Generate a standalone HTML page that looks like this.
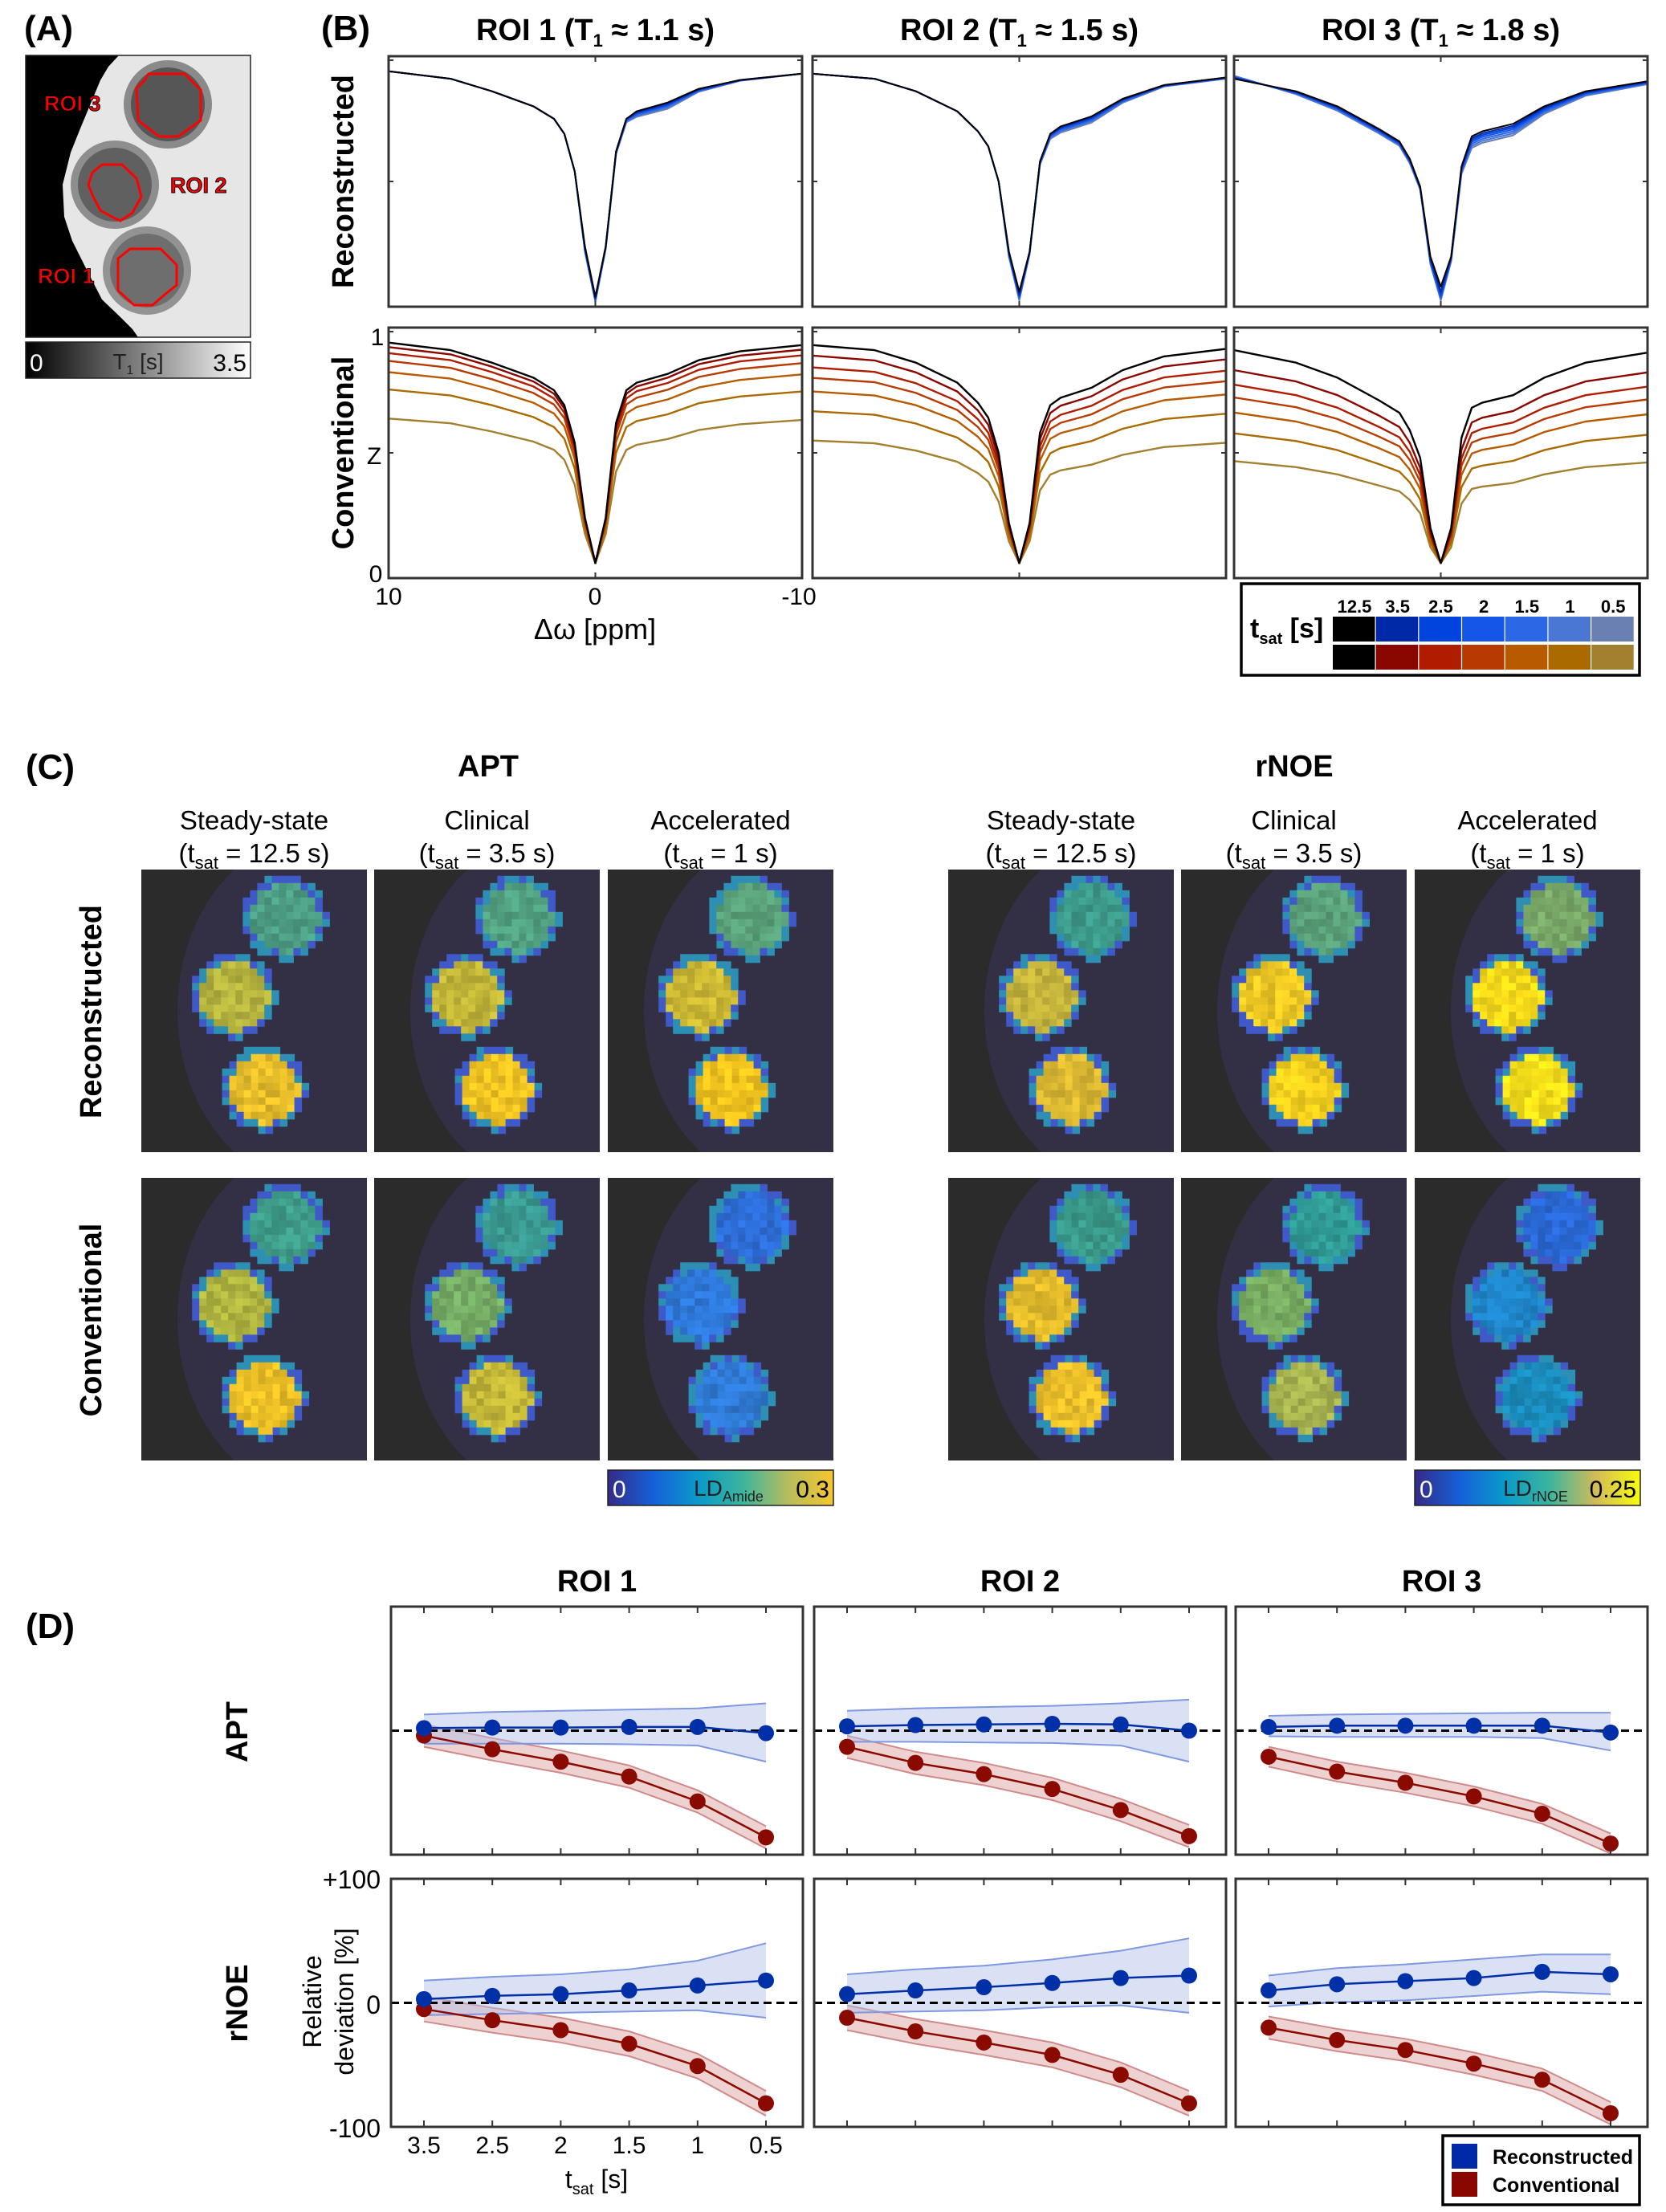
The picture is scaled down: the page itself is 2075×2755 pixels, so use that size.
<!DOCTYPE html>
<html><head><meta charset="utf-8"><style>
html,body{margin:0;padding:0;background:#fff;}
svg text{font-family:"Liberation Sans Narrow","Liberation Sans",sans-serif;}
.w{font-family:"Liberation Sans",sans-serif !important;}
</style></head><body>
<svg id="fig" xmlns="http://www.w3.org/2000/svg" width="2075" height="2750" viewBox="0 0 2075 2750">
<defs>
<linearGradient id="gT1" x1="0" x2="1"><stop offset="0" stop-color="#000"/><stop offset="1" stop-color="#fff"/></linearGradient>
<linearGradient id="gPar1" x1="0" x2="1"><stop offset="0" stop-color="#352a87"/><stop offset="0.2" stop-color="#1560d8"/><stop offset="0.4" stop-color="#0a9acb"/><stop offset="0.6" stop-color="#3db59c"/><stop offset="0.8" stop-color="#b7bd5c"/><stop offset="1" stop-color="#f6c62e"/></linearGradient>
<linearGradient id="gPar2" x1="0" x2="1"><stop offset="0" stop-color="#352a87"/><stop offset="0.2" stop-color="#1560d8"/><stop offset="0.4" stop-color="#0a9acb"/><stop offset="0.6" stop-color="#3db59c"/><stop offset="0.8" stop-color="#d1bb59"/><stop offset="1" stop-color="#f9fb0e"/></linearGradient>
</defs>
<g id="panelA">
<text x="30" y="50" font-size="44" font-weight="bold">(A)</text>
<rect x="32" y="69" width="280" height="351" fill="#e6e6e6"/>
<polygon points="32,69 148,69 135,83 125,100 100,160 88,190 78,230 80,270 90,300 110,340 127,373 150,395 165,410 172,420 32,420" fill="#000"/>
<circle cx="209" cy="130" r="55" fill="#8a8a8a"/><circle cx="209" cy="130" r="46" fill="#565656"/>
<circle cx="143" cy="230" r="55" fill="#8e8e8e"/><circle cx="143" cy="230" r="46" fill="#606060"/>
<circle cx="183" cy="337" r="55" fill="#939393"/><circle cx="183" cy="337" r="46" fill="#6e6e6e"/>
<polygon points="185,92 230,92 250,112 250,150 222,170 198,170 172,150 170,110 180,100" fill="none" stroke="#f00" stroke-width="3"/>
<polygon points="127,205 152,205 170,222 176,245 165,265 150,275 143,272 125,262 116,245 110,230 115,215" fill="none" stroke="#f00" stroke-width="3"/>
<polygon points="162,310 200,310 220,330 220,355 205,367 190,380 167,380 147,362 147,322" fill="none" stroke="#f00" stroke-width="3"/>
<g font-size="27" font-weight="bold" fill="#f00" stroke="#000" stroke-width="1" class="w">
<text x="55" y="138" class="w">ROI 3</text>
<text x="212" y="240" class="w">ROI 2</text>
<text x="47" y="353" class="w">ROI 1</text>
</g>
<rect x="32" y="69" width="280" height="351" fill="none" stroke="#222" stroke-width="1.5"/>
<rect x="32" y="426" width="280" height="45" fill="url(#gT1)" stroke="#222" stroke-width="1.5"/>
<text x="37" y="462" font-size="30" fill="#fff" class="w">0</text>
<text x="172" y="460" font-size="28" fill="#222" text-anchor="middle" class="w">T<tspan font-size="16" dy="6">1</tspan><tspan dy="-6"> [s]</tspan></text>
<text x="307" y="462" font-size="30" fill="#000" text-anchor="end" class="w">3.5</text>
</g>
<g id="panelB"></g>
<g id="panelC"></g>
<g id="panelD"></g>
</svg>
<script>
// ---------- Panel B data ----------
const offsets = [10,7,5,3,2,1.5,1,0.5,0,-0.5,-1,-1.5,-2,-3.5,-5,-7,-10];
const tsatLabels = ['12.5','3.5','2.5','2','1.5','1','0.5'];
const blueColors = ['#000000','#0029a8','#0044dd','#1555e8','#2b68e6','#4a76d4','#6b80b2'];
const redColors  = ['#000000','#8a0700','#b01c00','#b83a00','#b85a00','#ab6a00','#a38030'];
const roiTitles = ['ROI 1 (T','ROI 2 (T','ROI 3 (T'];
const roiT1 = ['1.1','1.5','1.8'];
// reconstructed, ROI1
const rec1_125=[0.94,0.91,0.86,0.80,0.75,0.69,0.54,0.24,0.04,0.24,0.62,0.75,0.78,0.815,0.87,0.905,0.93];
const rec1_35 =[0.94,0.91,0.86,0.80,0.75,0.69,0.54,0.23,0.035,0.24,0.62,0.75,0.777,0.812,0.868,0.905,0.93];
const rec1_25 =[0.94,0.91,0.86,0.80,0.75,0.69,0.54,0.23,0.03,0.24,0.62,0.748,0.774,0.808,0.866,0.904,0.93];
const rec1_2  =[0.94,0.91,0.86,0.80,0.75,0.69,0.54,0.23,0.03,0.235,0.615,0.745,0.77,0.804,0.864,0.904,0.93];
const rec1_15 =[0.94,0.91,0.86,0.80,0.75,0.69,0.54,0.22,0.025,0.235,0.615,0.742,0.766,0.80,0.862,0.903,0.93];
const rec1_1  =[0.94,0.91,0.86,0.80,0.75,0.69,0.54,0.22,0.02,0.23,0.61,0.74,0.762,0.796,0.86,0.903,0.93];
const rec1_05 =[0.94,0.91,0.86,0.80,0.75,0.69,0.54,0.22,0.02,0.23,0.61,0.736,0.758,0.79,0.858,0.902,0.93];
// reconstructed, ROI2
const rec2_125=[0.93,0.91,0.86,0.78,0.70,0.64,0.50,0.22,0.06,0.22,0.58,0.69,0.72,0.76,0.83,0.885,0.915];
const rec2_35 =[0.93,0.91,0.86,0.78,0.70,0.64,0.50,0.22,0.05,0.22,0.58,0.688,0.717,0.757,0.828,0.884,0.915];
const rec2_25 =[0.93,0.91,0.86,0.78,0.70,0.64,0.50,0.21,0.045,0.22,0.578,0.685,0.713,0.753,0.826,0.883,0.914];
const rec2_2  =[0.93,0.91,0.86,0.78,0.70,0.64,0.50,0.21,0.04,0.215,0.575,0.682,0.709,0.749,0.823,0.882,0.913];
const rec2_15 =[0.93,0.91,0.86,0.78,0.70,0.64,0.50,0.21,0.035,0.215,0.572,0.678,0.705,0.745,0.82,0.881,0.912];
const rec2_1  =[0.93,0.91,0.86,0.78,0.70,0.64,0.50,0.20,0.03,0.21,0.57,0.674,0.70,0.74,0.817,0.88,0.911];
const rec2_05 =[0.93,0.91,0.86,0.78,0.70,0.64,0.50,0.20,0.025,0.21,0.567,0.67,0.695,0.735,0.814,0.879,0.91];
// reconstructed, ROI3
const rec3_125=[0.91,0.86,0.80,0.71,0.66,0.59,0.48,0.20,0.08,0.20,0.56,0.68,0.70,0.73,0.80,0.86,0.90];
const rec3_35 =[0.912,0.858,0.797,0.707,0.657,0.587,0.478,0.19,0.06,0.20,0.555,0.672,0.692,0.722,0.795,0.857,0.898];
const rec3_25 =[0.914,0.856,0.794,0.704,0.654,0.584,0.476,0.19,0.05,0.195,0.55,0.665,0.685,0.715,0.79,0.854,0.896];
const rec3_2  =[0.916,0.854,0.791,0.701,0.651,0.581,0.474,0.18,0.04,0.19,0.545,0.658,0.678,0.708,0.785,0.851,0.894];
const rec3_15 =[0.918,0.852,0.788,0.698,0.648,0.578,0.472,0.18,0.035,0.19,0.54,0.65,0.67,0.70,0.78,0.848,0.892];
const rec3_1  =[0.92,0.85,0.785,0.695,0.645,0.575,0.47,0.17,0.03,0.185,0.535,0.642,0.662,0.692,0.775,0.845,0.89];
const rec3_05 =[0.922,0.848,0.782,0.692,0.642,0.572,0.468,0.17,0.025,0.18,0.53,0.634,0.654,0.684,0.77,0.842,0.888];
// conventional, ROI1
const con1_125=[0.94,0.91,0.86,0.80,0.75,0.69,0.54,0.24,0.06,0.24,0.62,0.75,0.78,0.815,0.87,0.905,0.93];
const con1_35 =[0.922,0.893,0.844,0.785,0.736,0.677,0.530,0.236,0.06,0.236,0.609,0.736,0.765,0.80,0.854,0.888,0.912];
const con1_25 =[0.898,0.87,0.822,0.765,0.717,0.66,0.517,0.231,0.06,0.231,0.593,0.717,0.746,0.779,0.831,0.865,0.889];
const con1_2  =[0.867,0.839,0.794,0.739,0.693,0.638,0.50,0.224,0.06,0.224,0.573,0.693,0.72,0.752,0.803,0.835,0.858];
const con1_15 =[0.822,0.796,0.752,0.70,0.657,0.605,0.475,0.215,0.06,0.215,0.544,0.657,0.683,0.713,0.761,0.791,0.813];
const con1_1  =[0.753,0.729,0.69,0.643,0.603,0.556,0.437,0.20,0.06,0.20,0.50,0.603,0.627,0.654,0.698,0.725,0.745];
const con1_05 =[0.637,0.618,0.585,0.545,0.512,0.472,0.373,0.175,0.06,0.175,0.426,0.512,0.532,0.555,0.591,0.614,0.631];
// conventional, ROI2
const con2_125=[0.93,0.91,0.86,0.78,0.70,0.64,0.50,0.22,0.06,0.22,0.58,0.69,0.72,0.76,0.83,0.885,0.915];
const con2_35 =[0.888,0.869,0.821,0.745,0.669,0.612,0.478,0.212,0.06,0.212,0.555,0.659,0.688,0.726,0.793,0.845,0.873];
const con2_25 =[0.841,0.823,0.778,0.706,0.634,0.58,0.455,0.203,0.06,0.203,0.526,0.625,0.652,0.688,0.751,0.801,0.828];
const con2_2  =[0.799,0.782,0.739,0.671,0.603,0.552,0.433,0.195,0.06,0.195,0.501,0.595,0.62,0.654,0.714,0.761,0.786];
const con2_15 =[0.745,0.729,0.69,0.627,0.564,0.516,0.406,0.184,0.06,0.184,0.469,0.556,0.579,0.611,0.666,0.71,0.733];
const con2_1  =[0.666,0.652,0.617,0.561,0.505,0.463,0.365,0.169,0.06,0.169,0.421,0.498,0.519,0.547,0.596,0.635,0.656];
const con2_05 =[0.549,0.538,0.509,0.464,0.419,0.385,0.305,0.146,0.06,0.146,0.35,0.413,0.43,0.453,0.492,0.523,0.54];
// conventional, ROI3
const con3_125=[0.91,0.86,0.80,0.71,0.66,0.59,0.48,0.20,0.06,0.20,0.56,0.68,0.70,0.73,0.80,0.86,0.90];
const con3_35 =[0.83,0.785,0.73,0.649,0.603,0.54,0.44,0.186,0.06,0.186,0.513,0.621,0.64,0.667,0.73,0.785,0.821];
const con3_25 =[0.772,0.73,0.68,0.604,0.562,0.504,0.411,0.176,0.06,0.176,0.478,0.579,0.596,0.621,0.68,0.73,0.764];
const con3_2  =[0.721,0.682,0.635,0.565,0.526,0.471,0.385,0.167,0.06,0.167,0.448,0.541,0.557,0.58,0.635,0.682,0.713];
const con3_15 =[0.661,0.625,0.583,0.519,0.483,0.433,0.355,0.157,0.06,0.157,0.412,0.497,0.512,0.533,0.583,0.625,0.654];
const con3_1  =[0.578,0.547,0.511,0.455,0.425,0.382,0.314,0.142,0.06,0.142,0.363,0.437,0.449,0.468,0.511,0.547,0.572];
const con3_05 =[0.467,0.443,0.414,0.37,0.346,0.312,0.259,0.123,0.06,0.123,0.297,0.356,0.365,0.38,0.414,0.443,0.462];

// ---------- Panel D data ----------
const tsatTickLabels = ['3.5','2.5','2','1.5','1','0.5'];
const aptRec1=[2,2.5,2.5,3,3,-2], aptRec1Hi=[13,15,16,17,18,22], aptRec1Lo=[-10.5,-10.5,-10.5,-11,-12,-25];
const aptCon1=[-4,-15,-25,-37,-57,-86], aptCon1Hi=[5,-6,-16,-28,-48,-77], aptCon1Lo=[-13,-24,-34,-46,-66,-95];
const aptRec2=[3.5,4.5,5,5.5,5,0], aptRec2Hi=[16,18,19,20,22,25], aptRec2Lo=[-9,-9,-9.5,-10,-12,-25];
const aptCon2=[-13,-26,-35,-47,-64,-85], aptCon2Hi=[-4,-17,-26,-38,-55,-76], aptCon2Lo=[-22,-35,-44,-56,-73,-94];
const aptRec3=[3,4,4,4,4,-1.5], aptRec3Hi=[12,13,13.5,14,14.5,14.5], aptRec3Lo=[-4.5,-5,-5,-5,-6,-16];
const aptCon3=[-21,-33,-42,-53,-67,-91], aptCon3Hi=[-13,-25,-34,-45,-59,-83], aptCon3Lo=[-29,-41,-50,-61,-75,-99];
const noeRec1=[3,5.6,7,10,14,18], noeRec1Hi=[18,21,23,27,34,48], noeRec1Lo=[-10,-9,-8,-7,-6,-12];
const noeCon1=[-5,-14,-22,-33,-51,-81], noeCon1Hi=[5,-4,-12,-23,-41,-71], noeCon1Lo=[-15,-24,-32,-43,-61,-91];
const noeRec2=[7,10,12.6,16,20,22], noeRec2Hi=[23,27,30,35,42,52], noeRec2Lo=[-8,-7,-6,-3.5,-2,-8];
const noeCon2=[-12,-23,-32,-42,-58,-81], noeCon2Hi=[-2,-13,-22,-32,-48,-71], noeCon2Lo=[-22,-33,-42,-52,-68,-91];
const noeRec3=[10,15,17.5,20,25,23], noeRec3Hi=[22,28,31,35,39,39], noeRec3Lo=[-3,0.5,2,5.5,9,7];
const noeCon3=[-20,-30,-38,-49,-62,-89], noeCon3Hi=[-11,-21,-29,-40,-53,-80], noeCon3Lo=[-29,-39,-47,-58,-71,-98];

const NS='http://www.w3.org/2000/svg';
function mk(parent,tag,attrs,txt){const e=document.createElementNS(NS,tag);for(const k in attrs)e.setAttribute(k,attrs[k]);if(txt!==undefined)e.textContent=txt;parent.appendChild(e);return e;}

// ---------- Panel B ----------
const gB=document.getElementById('panelB');
const bX=[484,1012,1537], bW=515, bY=[70,408], bH=[312,312];
const recSets=[[rec1_125,rec1_35,rec1_25,rec1_2,rec1_15,rec1_1,rec1_05],[rec2_125,rec2_35,rec2_25,rec2_2,rec2_15,rec2_1,rec2_05],[rec3_125,rec3_35,rec3_25,rec3_2,rec3_15,rec3_1,rec3_05]];
const conSets=[[con1_125,con1_35,con1_25,con1_2,con1_15,con1_1,con1_05],[con2_125,con2_35,con2_25,con2_2,con2_15,con2_1,con2_05],[con3_125,con3_35,con3_25,con3_2,con3_15,con3_1,con3_05]];
let t=mk(gB,'text',{x:400,y:50,'font-size':44,'font-weight':'bold'},'(B)');


for(let c=0;c<3;c++){
  const tt=mk(gB,'text',{x:bX[c]+bW/2,y:50,'font-size':38,'font-weight':'bold','text-anchor':'middle'});
  
  
  mk(tt,'tspan',{},roiTitles[c]);
  mk(tt,'tspan',{'font-size':22,dy:8},'1');
  mk(tt,'tspan',{dy:-8},' \u2248 '+roiT1[c]+' s)');
  for(let r=0;r<2;r++){
    const x0=bX[c],y0=bY[r],h=bH[r];
    const sx=p=>x0+(10-p)/20*bW, sy=z=>y0+h-z*h;
    const g=mk(gB,'g',{});
    
    
    const sets=r?conSets[c]:recSets[c], cols=r?redColors:blueColors;
    for(let k=6;k>=0;k--){
      const d=sets[k].map((z,i)=>(i?'L':'M')+sx(offsets[i]).toFixed(1)+','+sy(z).toFixed(1)).join('');
      const p=mk(g,'path',{d:d,fill:'none',stroke:cols[k],'stroke-width':r?2.4:2,'stroke-linejoin':'round'});
      
      
    }
    const box=mk(gB,'rect',{x:x0,y:y0,width:bW,height:h,fill:'none',stroke:'#333','stroke-width':3});
    
    
    mk(gB,'path',{d:`M${sx(0)},${y0}v7M${sx(0)},${y0+h}v-7M${x0},${y0+h/2}h6M${x0+bW},${y0+h/2}h-6M${x0},${y0+5}h6M${x0+bW},${y0+5}h-6`,stroke:'#333','stroke-width':2});
  }
}
[['Reconstructed',226],['Conventional',564]].forEach((a,i)=>{
  const e=mk(gB,'text',{x:0,y:0,'font-size':38,'font-weight':'bold','text-anchor':'middle',class:'w',transform:`translate(440,${a[1]}) rotate(-90)`},a[0]);
  
  
});
[['1',470,430],['Z',466,578],['0',468,725]].forEach(a=>{
  const e=mk(gB,'text',{x:a[1],y:a[2],'font-size':30,'text-anchor':'middle'},a[0]);
  
  
});
[['10',484],['0',741],['-10',995]].forEach(a=>{
  const e=mk(gB,'text',{x:a[1],y:753,'font-size':30,'text-anchor':'middle'},a[0]);
  
  
});
t=mk(gB,'text',{x:741,y:796,'font-size':36,'text-anchor':'middle'},'\u0394\u03c9 [ppm]');


const lg=mk(gB,'g',{});


mk(lg,'rect',{x:1546,y:727,width:496,height:114,fill:'#fff',stroke:'#000','stroke-width':3.5});
t=mk(lg,'text',{x:1557,y:794,'font-size':34,'font-weight':'bold',class:'w'});
mk(t,'tspan',{},'t');mk(t,'tspan',{'font-size':20,dy:8},'sat');mk(t,'tspan',{dy:-8},' [s]');
for(let k=0;k<7;k++){
  const x=1660+k*53.7;
  const lt=mk(lg,'text',{x:x+27,y:763,'font-size':22,'font-weight':'bold','text-anchor':'middle',class:'w'},tsatLabels[k]);
  
  
  const s1=mk(lg,'rect',{x:x,y:768,width:52.5,height:31,fill:blueColors[k]});
  
  
  const s2=mk(lg,'rect',{x:x,y:803,width:52.5,height:31,fill:redColors[k]});
  
  
}

// ---------- Panel C ----------
const gC=document.getElementById('panelC');
const cX=[176,466,757,1181,1471,1762], cY=[1083,1467], cW=281, cH=352;
const mapColors=[
 [['#4d9e84','#b4b23e','#e6bd2a'],['#52a282','#c2b638','#efc322'],['#5aa17a','#cdb934','#f2c41e'],
  ['#3d9a8a','#c4b33c','#dcb932'],['#5aa07a','#eec824','#f4d01e'],['#79a868','#f6da1a','#f6e01a']],
 [['#3f9e8a','#b0b640','#ebbf26'],['#3a9a92','#76ad66','#c4b838'],['#2e6ed8','#2e78d8','#2f7ad4'],
  ['#3a9a8a','#e2bb2c','#ebbf2a'],['#309a94','#78ac62','#a8b450'],['#2a6ad8','#1f84c8','#1a8cbc']]];
function hash(a,b){let h=(a*73856093)^(b*19349663);h=(h^(h>>>13))*1274126177;return ((h>>>0)%1000)/1000;}
function shade(hex,f){const n=parseInt(hex.slice(1),16);let r=n>>16,g=(n>>8)&255,b=n&255;r=Math.max(0,Math.min(255,Math.round(r*f)));g=Math.max(0,Math.min(255,Math.round(g*f)));b=Math.max(0,Math.min(255,Math.round(b*f)));return 'rgb('+r+','+g+','+b+')';}
const circ=[[0.635,0.17],[0.41,0.447],[0.543,0.775]];
const cellPx=9;
for(let r=0;r<2;r++)for(let m=0;m<6;m++){
  const x0=cX[m],y0=cY[r];
  const g=mk(gC,'g',{});
  
  
  mk(g,'rect',{x:x0,y:y0,width:cW,height:cH,fill:'#2b2b2b'});
  const cid='clip'+r+'_'+m;
  const cp=mk(g,'clipPath',{id:cid});mk(cp,'rect',{x:x0,y:y0,width:cW,height:cH});
  mk(g,'ellipse',{cx:x0+cW*0.78,cy:y0+cH*0.5,rx:cW*0.62,ry:cH*0.62,fill:'#332f45','clip-path':`url(#${cid})`});
  const cols=mapColors[r][m];
  for(let i=0;i<3;i++){
    const cx=x0+circ[i][0]*cW, cy=y0+circ[i][1]*cH, rad=52;
    let s='';
    for(let yy=-rad;yy<rad;yy+=cellPx)for(let xx=-rad;xx<rad;xx+=cellPx){
      const dx=xx+cellPx/2,dy=yy+cellPx/2;const d=Math.hypot(dx,dy);
      if(d>rad)continue;
      let col;
      if(d>rad-9){col=(hash(xx+i*7,yy+m*13)>0.5)?'#3f5ac8':'#2d8fb4';}
      else col=shade(cols[i],0.88+0.24*hash(xx+r*31+i,yy+m*17));
      s+=`<rect x="${(cx+xx).toFixed(1)}" y="${(cy+yy).toFixed(1)}" width="${cellPx+0.5}" height="${cellPx+0.5}" fill="${col}"/>`;
    }
    const cg=mk(g,'g',{});
    
    
    cg.innerHTML=s;
  }
}
t=mk(gC,'text',{x:32,y:970,'font-size':44,'font-weight':'bold'},'(C)');


[['APT',608],['rNOE',1612]].forEach(a=>{
  const e=mk(gC,'text',{x:a[1],y:967,'font-size':38,'font-weight':'bold','text-anchor':'middle',class:'w'},a[0]);
  
  
});
const colNames=['Steady-state','Clinical','Accelerated'], colT=['12.5','3.5','1'];
for(let m=0;m<6;m++){
  const cx=cX[m]+cW/2;
  const a=mk(gC,'text',{x:cx,y:1033,'font-size':33,'text-anchor':'middle'},colNames[m%3]);
  
  
  const b=mk(gC,'text',{x:cx,y:1074,'font-size':33,'text-anchor':'middle'});
  
  
  mk(b,'tspan',{},'(t');mk(b,'tspan',{'font-size':22,dy:8},'sat');mk(b,'tspan',{dy:-8},' = '+colT[m%3]+' s)');
}
[['Reconstructed',1260],['Conventional',1644]].forEach(a=>{
  const e=mk(gC,'text',{x:0,y:0,'font-size':38,'font-weight':'bold','text-anchor':'middle',class:'w',transform:`translate(126,${a[1]}) rotate(-90)`},a[0]);
  
  
});
[[757,'gPar1','Amide','0.3'],[1762,'gPar2','rNOE','0.25']].forEach(a=>{
  const g=mk(gC,'g',{});
  
  
  mk(g,'rect',{x:a[0],y:1831,width:cW,height:44,fill:`url(#${a[1]})`,stroke:'#222','stroke-width':1.5});
  mk(g,'text',{x:a[0]+6,y:1865,'font-size':30,fill:'#fff',class:'w'},'0');
  const tt=mk(g,'text',{x:a[0]+cW/2+10,y:1863,'font-size':28,'text-anchor':'middle',fill:'#222',class:'w'});
  mk(tt,'tspan',{},'LD');mk(tt,'tspan',{'font-size':18,dy:7},a[2]);
  mk(g,'text',{x:a[0]+cW-5,y:1865,'font-size':30,'text-anchor':'end',fill:'#000',class:'w'},a[3]);
});

// ---------- Panel D ----------
const gD=document.getElementById('panelD');
const dX=[487,1014,1539], dW=513, dY=[2001,2340], dH=[309,309];
const dSets=[
 [[aptRec1,aptRec1Hi,aptRec1Lo,aptCon1,aptCon1Hi,aptCon1Lo],[aptRec2,aptRec2Hi,aptRec2Lo,aptCon2,aptCon2Hi,aptCon2Lo],[aptRec3,aptRec3Hi,aptRec3Lo,aptCon3,aptCon3Hi,aptCon3Lo]],
 [[noeRec1,noeRec1Hi,noeRec1Lo,noeCon1,noeCon1Hi,noeCon1Lo],[noeRec2,noeRec2Hi,noeRec2Lo,noeCon2,noeCon2Hi,noeCon2Lo],[noeRec3,noeRec3Hi,noeRec3Lo,noeCon3,noeCon3Hi,noeCon3Lo]]];
t=mk(gD,'text',{x:32,y:2040,'font-size':44,'font-weight':'bold'},'(D)');


for(let c=0;c<3;c++){
  const tt=mk(gD,'text',{x:dX[c]+dW/2,y:1982,'font-size':38,'font-weight':'bold','text-anchor':'middle'},'ROI '+(c+1));
  
  
  for(let r=0;r<2;r++){
    const x0=dX[c],y0=dY[r],h=dH[r];
    const n=tsatTickLabels.length;
    const sx=i=>x0+41+i/(n-1)*426;
    const sy=v=>y0+h/2-v/100*h/2;
    const [rec,rh,rl,con,ch,cl]=dSets[r][c];
    const g=mk(gD,'g',{});
    
    
    const band=(hi,lo,fill,edge,name)=>{
      let d='M'+hi.map((v,i)=>sx(i).toFixed(1)+','+sy(v).toFixed(1)).join('L');
      d+='L'+lo.map((v,i)=>sx(i).toFixed(1)+','+sy(v).toFixed(1)).reverse().join('L')+'Z';
      const p=mk(g,'path',{d:d,fill:fill,'fill-opacity':0.45,stroke:'none'});
      
      
      [hi,lo].forEach(arr=>mk(g,'path',{d:'M'+arr.map((v,i)=>sx(i).toFixed(1)+','+sy(v).toFixed(1)).join('L'),fill:'none',stroke:edge,'stroke-width':2}));
    };
    band(ch,cl,'#d99a9a','#cf8a8a','conventional-band');
    band(rh,rl,'#aebce6','#7f98e0','reconstructed-band');
    const zl=mk(g,'line',{x1:x0,x2:x0+dW,y1:sy(0),y2:sy(0),stroke:'#000','stroke-width':3,'stroke-dasharray':'10,6'});
    
    
    [[con,'#8a0a00','conventional'],[rec,'#0030a8','reconstructed']].forEach(s=>{
      const ln=mk(g,'path',{d:'M'+s[0].map((v,i)=>sx(i).toFixed(1)+','+sy(v).toFixed(1)).join('L'),fill:'none',stroke:s[1],'stroke-width':2.5});
      
      
      s[0].forEach((v,i)=>{
        const dt=mk(g,'circle',{cx:sx(i),cy:sy(v),r:10,fill:s[1]});
        
        
      });
    });
    const box=mk(gD,'rect',{x:x0,y:y0,width:dW,height:h,fill:'none',stroke:'#333','stroke-width':3});
    
    
    let tk='';for(let i=0;i<n;i++){tk+=`M${sx(i)},${y0}v8M${sx(i)},${y0+h}v-8`;}
    mk(gD,'path',{d:tk,stroke:'#333','stroke-width':2});
    if(r===1&&c===0){
      tsatTickLabels.forEach((l,i)=>{
        const e=mk(gD,'text',{x:sx(i),y:2682,'font-size':30,'text-anchor':'middle',class:'w'},l);
        
        
      });
    }
  }
}
[['+100',2352],['0',2508],['-100',2662]].forEach(a=>{
  const e=mk(gD,'text',{x:474,y:a[1],'font-size':32,'text-anchor':'end',class:'w'},a[0]);
  
  
});
[['APT',2157],['rNOE',2495]].forEach(a=>{
  const e=mk(gD,'text',{x:0,y:0,'font-size':38,'font-weight':'bold','text-anchor':'middle',class:'w',transform:`translate(308,${a[1]}) rotate(-90)`},a[0]);
  
  
});
t=mk(gD,'text',{x:0,y:0,'font-size':32,'text-anchor':'middle',class:'w',transform:'translate(400,2493) rotate(-90)'},'Relative');


t=mk(gD,'text',{x:0,y:0,'font-size':32,'text-anchor':'middle',class:'w',transform:'translate(440,2493) rotate(-90)'},'deviation [%]');


t=mk(gD,'text',{x:743,y:2725,'font-size':32,'text-anchor':'middle',class:'w'});


mk(t,'tspan',{},'t');mk(t,'tspan',{'font-size':20,dy:8},'sat');mk(t,'tspan',{dy:-8},' [s]');
const ld=mk(gD,'g',{});


mk(ld,'rect',{x:1797,y:2660,width:245,height:86,fill:'#fff',stroke:'#000','stroke-width':3.5});
mk(ld,'rect',{x:1808,y:2670,width:32,height:31,fill:'#0029a8'});
mk(ld,'rect',{x:1808,y:2705,width:32,height:31,fill:'#8a0700'});
mk(ld,'text',{x:1859,y:2695,'font-size':25,'font-weight':'bold',class:'w'},'Reconstructed');
mk(ld,'text',{x:1859,y:2730,'font-size':25,'font-weight':'bold',class:'w'},'Conventional');
</script>
</body></html>
